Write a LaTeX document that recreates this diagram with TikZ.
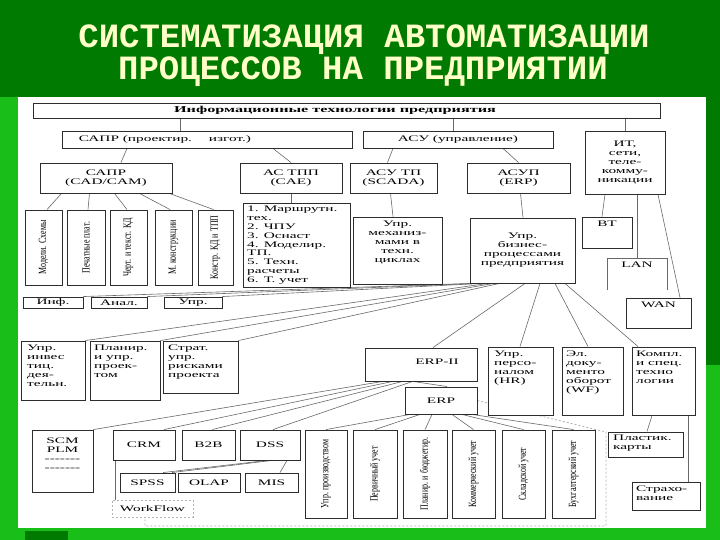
\documentclass[tikz,border=0pt]{standalone}
\usepackage{fontspec}
\setmainfont{Liberation Serif}
\newfontfamily\wfont[FakeStretch=1.8]{Liberation Serif}
\newfontfamily\nfont[FakeStretch=0.72]{Liberation Serif}
\newfontfamily\ttlfont{Liberation Mono}
\usetikzlibrary{calc}
\pgfdeclarelayer{base}
\pgfdeclarelayer{bg}
\pgfsetlayers{base,bg,main}
\definecolor{dkgreen}{RGB}{0,122,0}
\definecolor{ltgreen}{RGB}{25,190,25}
\definecolor{ttl}{RGB}{255,255,200}
\definecolor{boxc}{RGB}{45,45,45}
\definecolor{linec}{RGB}{105,105,105}
\tikzset{
 bx/.style={draw=boxc, line width=0.9pt, fill=white, inner sep=0pt, align=center, font=\wfont\fontsize{8.5}{9}\selectfont},
 tx/.style={inner sep=0pt, align=left, font=\wfont\fontsize{8.5}{9}\selectfont},
 vtx/.style={inner sep=0pt, rotate=90, font=\nfont\fontsize{11}{12}\selectfont},
 cn/.style={draw=linec, line width=0.6pt},
 dt/.style={draw=gray!60, line width=0.8pt, dash pattern=on 2pt off 2pt},
 ttlstyle/.style={inner sep=0pt, anchor=base, text=ttl, font=\ttlfont\bfseries\fontsize{34}{34}\selectfont},
}
\newcommand\mybox[7][]{%
  \pgfmathsetmacro\bxw{#5-#3}%
  \pgfmathsetmacro\bxh{#6-#4}%
  \node[bx,minimum width=\bxw pt,minimum height=\bxh pt,#1] (#2) at ({(#3+#5)/2},{(#4+#6)/2}) {#7};%
}
\begin{document}
\begin{tikzpicture}[x=1pt,y=-1pt]
\useasboundingbox (0,0) rectangle (720,540);
\begin{pgfonlayer}{base}
 \fill[dkgreen] (0,0) rectangle (720,540);
 \fill[ltgreen] (0,97) rectangle (18,540);
 \fill[ltgreen] (705,365) rectangle (720,540);
 \fill[ltgreen] (0,528) rectangle (720,540);
 \fill[dkgreen] (25,531) rectangle (68,540);
 \fill[white] (18,97) rectangle (706,528);
\end{pgfonlayer}

% title
\node[ttlstyle] (t1) at (364,48) {СИСТЕМАТИЗАЦИЯ АВТОМАТИЗАЦИИ};
\node[ttlstyle] (t2) at (363,80) {ПРОЦЕССОВ НА ПРЕДПРИЯТИИ};

% level 1-3
\mybox{top}{33}{103}{660}{118}{}
\node[inner sep=0pt, font=\wfont\bfseries\fontsize{9}{9}\selectfont] (topt) at (335,110.5) {Информационные технологии предприятия};
\mybox{sapr}{62}{131}{352}{148}{}
\node[tx] (saprt) at (165,139.5) {САПР (проектир.\quad\quad изгот.)};
\mybox{asu}{363}{131}{553}{148}{АСУ (управление)}
\mybox{it}{585}{131}{665}{194}{ИТ,\\сети,\\теле-\\комму-\\никации}
\mybox{cad}{40}{163}{172}{193}{САПР\\(CAD/CAM)}
\mybox{tpp}{240}{163}{342}{193}{АС ТПП\\(CAE)}
\mybox{asutp}{350}{163}{437}{193}{АСУ ТП\\(SCADA)}
\mybox{asup}{467}{163}{570}{193}{АСУП\\(ERP)}

% CAD children
\mybox{v1}{25}{210}{62}{285}{}
\mybox{v2}{67}{210}{105}{285}{}
\mybox{v3}{110}{210}{147}{285}{}
\mybox{v4}{155}{210}{192}{285}{}
\mybox{v5}{198}{210}{233}{285}{}
\node[vtx] (v1t) at (v1) {Модели. Схемы};
\node[vtx] (v2t) at (v2) {Печатные плат.};
\node[vtx] (v3t) at (v3) {Черт. и текст. КД};
\node[vtx] (v4t) at (v4) {М. конструкции};
\node[vtx] (v5t) at (v5) {Констр. КД и ТПП};

\mybox{lst}{243}{203}{350}{287}{}
\node[tx,anchor=north west,font=\wfont\fontsize{8.5}{8.8}\selectfont] (lstt) at (247,206) {1. Маршрутн.\\тех.\\2. ЧПУ\\3. Оснаст\\4. Моделир.\\ТП.\\5. Техн.\\расчеты\\6. Т. учет};
\mybox{mech}{353}{217}{442}{284}{}
\node[tx,align=center,anchor=north] (mecht) at (397.5,221) {Упр.\\механиз-\\мами в\\техн.\\циклах};
\mybox{biz}{470}{218}{575}{283}{Упр.\\бизнес-\\процессами\\предприятия}
\mybox{bt}{582}{217}{632}{248}{}
\node[tx,anchor=north] (btt) at (607,221) {ВТ};
\node[inner sep=0pt, minimum width=60pt, minimum height=32pt] (lan) at (637,274) {};
\node[tx,anchor=north] (lant) at (637,262) {LAN};
\mybox{wan}{626}{298}{691}{328}{}
\node[tx,anchor=north] (want) at (658.5,302) {WAN};

% rows on the left
\mybox{inf}{23}{297}{83}{308}{Инф.}
\mybox{anal}{91}{297}{147}{308}{Анал.}
\mybox{upr}{164}{297}{222}{308}{Упр.}
\mybox{inv}{21}{341}{85}{400}{}
\node[tx,anchor=north west] (invt) at (27,345) {Упр.\\инвес\\тиц.\\дея-\\тельн.};
\mybox{plan}{90}{341}{160}{400}{}
\node[tx,anchor=north west] (plant) at (94,345) {Планир.\\и упр.\\проек-\\том};
\mybox{strat}{163}{341}{238}{393}{}
\node[tx,anchor=north west] (stratt) at (168,345) {Страт.\\упр.\\рисками\\проекта};

% ERP area
\mybox{erp2}{365}{348}{477}{381}{}
\node[tx] (erp2t) at (437,362) {ERP-II};
\mybox{erp}{405}{387}{477}{414}{ERP}
\mybox{hr}{488}{347}{553}{415}{}
\node[tx,anchor=north west] (hrt) at (494,351) {Упр.\\персо-\\налом\\(HR)};
\mybox{wf}{562}{347}{623}{415}{}
\node[tx,anchor=north west] (wft) at (566,351) {Эл.\\доку-\\менто\\оборот\\(WF)};
\mybox{kompl}{632}{347}{695}{415}{}
\node[tx,anchor=north west] (komplt) at (636,351) {Компл.\\и спец.\\техно\\логии};

% bottom
\mybox{scm}{32}{430}{93}{492}{}
\node[tx,align=center,anchor=north] (scmt) at (62.5,438) {SCM\\PLM\\-------\\-------};
\mybox{crm}{113}{430}{175}{460}{CRM}
\mybox{btb}{182}{430}{235}{460}{B2B}
\mybox{dss}{240}{430}{300}{460}{DSS}
\mybox{spss}{120}{473}{175}{492}{SPSS}
\mybox{olap}{178}{473}{240}{492}{OLAP}
\mybox{mis}{245}{473}{298}{492}{MIS}
\mybox[dt]{wflow}{112}{500}{193}{517}{WorkFlow}
\mybox{e1}{305}{430}{347}{518}{}
\mybox{e2}{353}{430}{397}{518}{}
\mybox{e3}{403}{430}{447}{518}{}
\mybox{e4}{452}{430}{495}{518}{}
\mybox{e5}{502}{430}{545}{518}{}
\mybox{e6}{552}{430}{595}{518}{}
\node[vtx] (e1t) at (e1) {Упр. производством};
\node[vtx] (e2t) at (e2) {Первичный учет};
\node[vtx] (e3t) at (e3) {Планир. и бюджетир.};
\node[vtx] (e4t) at (e4) {Коммерческий учет};
\node[vtx] (e5t) at (e5) {Складской учет};
\node[vtx] (e6t) at (e6) {Бухгалтерский учет};
\mybox{plast}{608}{432}{683}{457}{}
\node[tx,anchor=north west] (plastt) at (613,435) {Пластик.\\карты};
\mybox{strah}{632}{482}{700}{510}{}
\node[tx,anchor=north west] (straht) at (636,486) {Страхо-\\вание};

\coordinate (d1) at (606,432);
\coordinate (d2) at (606,526);
\coordinate (d3) at (145,526);

\begin{pgfonlayer}{bg}
 \draw[cn] ([xshift=-166.5pt]top.south) -- ([xshift=-27pt]sapr.north);
 \draw[cn] ([xshift=106.5pt]top.south) -- ([xshift=-5pt]asu.north);
 \draw[cn] ([xshift=278.5pt]top.south) -- ([xshift=0pt]it.north);
 \draw[cn] ([xshift=-80pt]sapr.south) -- ([xshift=15pt]cad.north);
 \draw[cn] ([xshift=66pt]sapr.south) -- ([xshift=0pt]tpp.north);
 \draw[cn] ([xshift=-65pt]asu.south) -- ([xshift=-6pt]asutp.north);
 \draw[cn] ([xshift=45pt]asu.south) -- ([xshift=0pt]asup.north);
 \draw[cn] ([xshift=-44.5pt]cad.south) -- ([xshift=3.5pt]v1.north);
 \draw[cn] ([xshift=-16.5pt]cad.south) -- ([xshift=2pt]v2.north);
 \draw[cn] ([xshift=8.5pt]cad.south) -- ([xshift=-1.5pt]v3.north);
 \draw[cn] ([xshift=33.5pt]cad.south) -- ([xshift=-3.5pt]v4.north);
 \draw[cn] ([xshift=63.5pt]cad.south) -- ([xshift=-2pt]v5.north);
 \draw[cn] (tpp.south) -- (tpp.south |- lst.north);
 \draw[cn] ([xshift=-3pt]asutp.south) -- ([xshift=-4.5pt]mech.north);
 \draw[cn] ([xshift=2pt]asup.south) -- ([xshift=0.5pt]biz.north);
 \draw[cn] ([xshift=-20pt]it.south) -- ([xshift=-5pt]bt.north);
 \draw[cn] ([xshift=12pt]it.south) -- (lan.north);
 \draw[cn] ([xshift=33pt]it.south) -- ([xshift=21.5pt]wan.north);
 \draw[cn] (lan.south west) -- (lan.north west) -- (lan.north east) -- (lan.south east);
 % fan to left rows
 \draw[cn] (biz.south west) -- (inf.north east);
 \draw[cn] ([xshift=6pt]biz.south west) -- (anal.north east);
 \draw[cn] ([xshift=12pt]biz.south west) -- (upr.north east);
 \draw[cn] ([xshift=18pt]biz.south west) -- (inv.north east);
 \draw[cn] ([xshift=24pt]biz.south west) -- (plan.north east);
 \draw[cn] ([xshift=30pt]biz.south west) -- (strat.north east);
 % biz to ERP level
 \draw[cn] ([xshift=2.5pt]biz.south) -- ([xshift=12pt]erp2.north);
 \draw[cn] ([xshift=17.5pt]biz.south) -- ([xshift=-0.5pt]hr.north);
 \draw[cn] ([xshift=32.5pt]biz.south) -- ([xshift=-4.5pt]wf.north);
 \draw[cn] ([xshift=42.5pt]biz.south) -- ([xshift=-25.5pt]kompl.north);
 \draw[cn] ([xshift=-8pt]erp2.south) -- ([xshift=6pt]erp.north);
 % ERP-II fan to bottom-left
 \draw[cn] ([xshift=18pt]erp2.south west) -- (scm.north east);
 \draw[cn] ([xshift=28pt]erp2.south west) -- ([xshift=20pt]crm.north);
 \draw[cn] ([xshift=38pt]erp2.south west) -- ([xshift=4pt]btb.north);
 \draw[cn] ([xshift=48pt]erp2.south west) -- ([xshift=3pt]dss.north);
 % ERP to verticals
 \draw[cn] ([xshift=-31pt]erp.south) -- (e1.north);
 \draw[cn] ([xshift=-21pt]erp.south) -- (e2.north);
 \draw[cn] ([xshift=-9pt]erp.south) -- (e3.north);
 \draw[cn] ([xshift=11pt]erp.south) -- (e4.north);
 \draw[cn] ([xshift=21pt]erp.south) -- (e5.north);
 \draw[cn] ([xshift=31pt]erp.south) -- (e6.north);
 % DSS etc
 \draw[cn] ([xshift=-3pt]dss.south) -- ([xshift=15.5pt]spss.north);
 \draw[cn] ([xshift=2pt]dss.south) -- ([xshift=24.5pt]spss.north);
 \draw[cn] ([xshift=17pt]dss.south) -- ([xshift=8.5pt]mis.north);
 \draw[cn] ([xshift=-29pt]crm.south) -- ([xshift=-37.5pt]wflow.north);
 \draw[cn] ([xshift=-11.5pt]kompl.south) -- ([xshift=1.5pt]plast.north);
 \draw[cn] ([xshift=24.5pt]kompl.south) -- ([xshift=22pt]strah.north);
 % dotted path
 \draw[dt] (erp.east) -- (d1) -- (d2) -- (d3) -- ([xshift=-7.5pt]wflow.south);
\end{pgfonlayer}
\end{tikzpicture}
\end{document}
